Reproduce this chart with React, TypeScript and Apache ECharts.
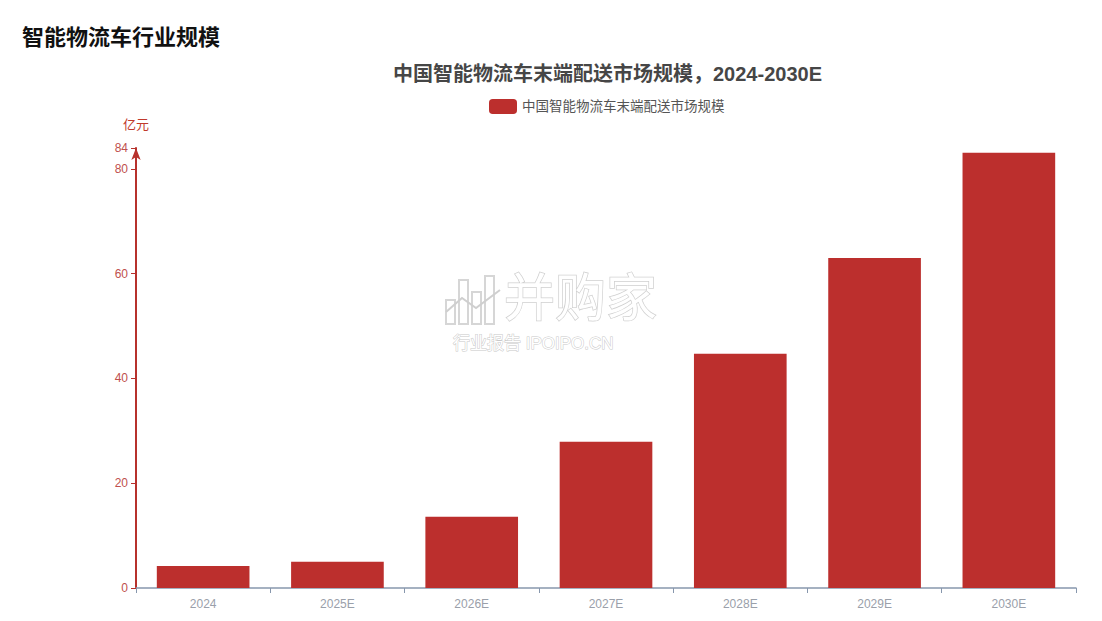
import React, { useEffect, useRef } from "react";
import * as echarts from "echarts";

const categories = ["2024", "2025E", "2026E", "2027E", "2028E", "2029E", "2030E"];
const values = [4.2, 5.0, 13.6, 27.9, 44.7, 63.0, 83.1];
const seriesName = "中国智能物流车末端配送市场规模";
const pageTitle = "智能物流车行业规模";
const chartTitle = "中国智能物流车末端配送市场规模，2024-2030E";
const yUnit = "亿元";

const FONT = "Liberation Sans, Noto Sans CJK SC, sans-serif";

export default function App() {
  const ref = useRef<HTMLDivElement>(null);
  useEffect(() => {
    const chart = echarts.init(ref.current!, null, { renderer: "svg" });
    const wmStroke = "#d6d6d6";
    chart.setOption({
      animation: false,
      backgroundColor: "#ffffff",
      textStyle: { fontFamily: FONT },
      title: [
        {
          text: pageTitle,
          left: 17,
          top: 21,
          textStyle: { fontSize: 22, fontWeight: "bold", color: "#111", fontFamily: FONT },
        },
        {
          text: chartTitle,
          left: 388,
          top: 59,
          textStyle: { fontSize: 20, fontWeight: "bold", color: "#464646", fontFamily: FONT },
        },
      ],
      legend: {
        top: 94,
        left: 484,
        itemWidth: 28,
        itemHeight: 15,
        itemGap: 6,
        icon: "roundRect",
        textStyle: { fontSize: 13.5, color: "#555", fontFamily: FONT },
        data: [seriesName],
      },
      grid: { left: 136, right: 26, top: 148, bottom: 33 },
      xAxis: {
        type: "category",
        data: categories,
        axisLine: { lineStyle: { color: "#8797ad", width: 1.5 } },
        axisTick: { show: true, lineStyle: { color: "#8797ad" } },
        axisLabel: { color: "#9aa0aa", fontSize: 12, margin: 10, fontFamily: FONT },
      },
      yAxis: {
        type: "value",
        min: 0,
        max: 84,
        interval: 20,
        name: yUnit,
        nameGap: 17,
        nameTextStyle: { color: "#c0392b", fontSize: 13, align: "center", fontFamily: FONT },
        splitLine: { show: false },
        axisLine: {
          show: true,
          symbol: ["none", "arrow"],
          symbolSize: [7, 12],
          lineStyle: { color: "#b7312c", width: 2 },
        },
        axisTick: { show: true, lineStyle: { color: "#b7312c" } },
        axisLabel: { color: "#c0504d", fontSize: 12, showMaxLabel: true, fontFamily: FONT },
      },
      series: [
        {
          name: seriesName,
          type: "bar",
          data: values,
          barWidth: "69%",
          itemStyle: { color: "#bc2f2d" },
        },
      ],
      graphic: [
        { type: "rect", silent: true, z: 100, shape: { x: 446, y: 300, width: 9, height: 24 }, style: { fill: "#fff", stroke: wmStroke, lineWidth: 2 } },
        { type: "rect", silent: true, z: 100, shape: { x: 459, y: 280, width: 9, height: 44 }, style: { fill: "#fff", stroke: wmStroke, lineWidth: 2 } },
        { type: "rect", silent: true, z: 100, shape: { x: 472, y: 292, width: 9, height: 32 }, style: { fill: "#fff", stroke: wmStroke, lineWidth: 2 } },
        { type: "rect", silent: true, z: 100, shape: { x: 485, y: 276, width: 9, height: 48 }, style: { fill: "#fff", stroke: wmStroke, lineWidth: 2 } },
        { type: "polyline", silent: true, z: 101, shape: { points: [[446, 312], [462, 298], [476, 308], [500, 290]] }, style: { fill: "none", stroke: "#cfcfcf", lineWidth: 2 } },
        {
          type: "text",
          silent: true,
          z: 100,
          x: 504,
          y: 273,
          style: {
            text: "并购家",
            fontSize: 51,
            lineHeight: 50,
            fontFamily: FONT,
            fill: "#ffffff",
            stroke: "#d0d0d0",
            lineWidth: 1.5,
          },
        },
        {
          type: "text",
          silent: true,
          z: 100,
          x: 453,
          y: 335,
          style: {
            text: "行业报告 IPOIPO.CN",
            fontSize: 17,
            lineHeight: 17,
            fontFamily: FONT,
            fill: "#ffffff",
            stroke: "#c8c8c8",
            lineWidth: 1,
          },
        },
      ],
    });
    return () => chart.dispose();
  }, []);
  return (
    <div
      ref={ref}
      style={{ position: "absolute", left: 0, top: 0, width: 1102, height: 621 }}
    />
  );
}
